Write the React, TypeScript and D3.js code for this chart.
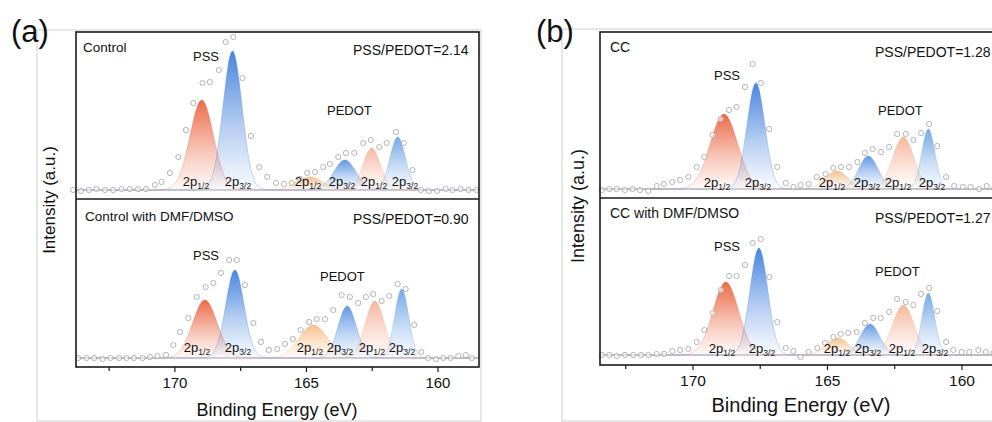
import React from "react";
import * as d3 from "d3";

// ---- Measured S 2p spectra: [binding energy (eV), intensity (a.u.)] ----
const controlPoints: [number, number][] = [
  [173.87, 0], [173.57, -1], [173.27, 0], [172.98, 1], [172.66, 0], [172.35, 0], [172.03, 1], [171.71, 1],
  [171.4, 1], [171.1, 1], [170.76, 5], [170.51, 8], [170.19, 17], [169.87, 33], [169.58, 60], [169.3, 87],
  [168.95, 107], [168.67, 108], [168.33, 120], [168.07, 148], [167.78, 153], [167.43, 112], [167.11, 54],
  [166.79, 23], [166.49, 13], [166.16, 7], [165.86, 6], [165.56, 7], [165.25, 11], [164.97, 17], [164.67, 18],
  [164.36, 23], [164.11, 26], [163.79, 33], [163.5, 37], [163.18, 37], [162.84, 47], [162.55, 50], [162.23, 43],
  [161.95, 47], [161.6, 58], [161.3, 47], [160.97, 20], [160.65, 0], [160.35, -1], [160.03, -1], [159.71, 1],
  [159.45, 0], [159.14, 1], [158.84, 0], [158.54, 0],
];
const controlDmfPoints: [number, number][] = [
  [173.68, 0], [173.36, 0], [173.07, 0], [172.75, -1], [172.45, 0], [172.12, 0], [171.84, 0], [171.56, 0],
  [171.23, 0], [170.95, 1], [170.66, 2], [170.34, 3], [170.06, 13], [169.81, 26], [169.49, 40], [169.17, 61],
  [168.83, 71], [168.54, 75], [168.25, 85], [167.94, 98], [167.65, 98], [167.34, 73], [167.02, 35], [166.73, 16],
  [166.43, 8], [166.11, 9], [165.82, 14], [165.52, 19], [165.22, 28], [164.9, 36], [164.61, 39], [164.3, 39],
  [163.98, 48], [163.66, 63], [163.35, 61], [163.03, 55], [162.74, 61], [162.46, 64], [162.14, 57], [161.85, 62],
  [161.53, 74], [161.23, 69], [160.9, 33], [160.63, 6], [160.37, 0], [160.08, -1], [159.8, 0], [159.52, 0],
  [159.23, 2], [158.94, 3], [158.71, 0],
];
const ccPoints: [number, number][] = [
  [173.39, -1], [173.11, 0], [172.84, 0], [172.53, -1], [172.24, 0], [171.97, -1], [171.66, -2], [171.35, 3],
  [171.08, 5], [170.77, 7], [170.48, 9], [170.17, 12], [169.86, 22], [169.58, 32], [169.27, 54], [168.97, 70],
  [168.66, 79], [168.38, 82], [168.07, 102], [167.78, 125], [167.48, 106], [167.17, 60], [166.87, 22], [166.55, 6],
  [166.27, 2], [166.0, 4], [165.7, 5], [165.4, 12], [165.07, 15], [164.78, 21], [164.5, 22], [164.2, 22],
  [163.89, 27], [163.61, 36], [163.32, 40], [163.01, 37], [162.71, 42], [162.41, 55], [162.09, 55], [161.81, 49],
  [161.52, 56], [161.22, 65], [160.92, 43], [160.59, 12], [160.29, 3], [159.97, 2], [159.68, 2], [159.36, 0],
  [159.08, 3], [158.8, 1],
];
const ccDmfPoints: [number, number][] = [
  [173.39, 0], [173.11, 0], [172.84, -1], [172.53, 0], [172.22, 0], [171.93, 0], [171.66, 0], [171.35, 1],
  [171.07, 1], [170.77, 4], [170.48, 5], [170.17, 6], [169.86, 13], [169.58, 25], [169.27, 42], [168.96, 65],
  [168.66, 79], [168.38, 79], [168.07, 90], [167.78, 112], [167.48, 116], [167.16, 78], [166.87, 33], [166.55, 7],
  [166.27, 4], [166.0, -2], [165.7, 3], [165.38, 7], [165.09, 12], [164.78, 18], [164.51, 21], [164.23, 22],
  [163.91, 23], [163.61, 32], [163.3, 37], [163.02, 37], [162.71, 43], [162.41, 56], [162.09, 53], [161.81, 50],
  [161.52, 61], [161.22, 67], [160.92, 44], [160.59, 13], [160.32, 5], [160.01, 3], [159.73, 3], [159.39, 5],
  [159.11, 3], [158.82, 2],
];

// ---- Fitted components: [center (eV), height (a.u.), FWHM (eV)] ----
// order: PSS 2p1/2, PSS 2p3/2, PEDOT 2p1/2, PEDOT 2p3/2, PEDOT 2p1/2, PEDOT 2p3/2
const controlPeaks: [number, number, number][] = [
  [168.98, 90, 1.05], [167.81, 139, 0.85], [164.87, 13, 1.2], [163.54, 30, 1.0], [162.52, 42, 0.78], [161.53, 53, 0.7],
];
const controlDmfPeaks: [number, number, number][] = [
  [168.86, 58, 1.1], [167.72, 88, 0.82], [164.74, 33, 1.27], [163.45, 52, 0.82], [162.4, 57, 0.86], [161.38, 69, 0.63],
];
const ccPeaks: [number, number, number][] = [
  [168.85, 75, 1.2], [167.66, 106, 0.78], [164.66, 18, 1.0], [163.48, 33, 0.85], [162.18, 52, 0.93], [161.25, 60, 0.58],
];
const ccDmfPeaks: [number, number, number][] = [
  [168.78, 73, 1.12], [167.55, 107, 0.78], [164.62, 17, 1.0], [163.42, 31, 0.85], [162.18, 50, 0.95], [161.25, 62, 0.56],
];

const sampleNames = ["Control", "Control with DMF/DMSO", "CC", "CC with DMF/DMSO"];
const ratioLabels = ["PSS/PEDOT=2.14", "PSS/PEDOT=0.90", "PSS/PEDOT=1.28", "PSS/PEDOT=1.27"];
const componentSubs = ["1/2", "3/2", "1/2", "3/2", "1/2", "3/2"];
const majorTicks = [170, 165, 160];
const minorTicks = [172.5, 167.5, 162.5, 157.5];

// ---- styling ----
const FONT = "Arial, 'Liberation Sans', Helvetica, sans-serif";
const compColors = ["#E95F38", "#3A7BDB", "#F2A65C", "#4A89DE", "#F3A07F", "#5E9BE2"];
const compOpacity = [0.92, 0.92, 0.7, 0.85, 0.75, 0.85];

type Sub = {
  points: [number, number][];
  peaks: [number, number, number][];
  name: string;
  ratio: string;
  top: number;
  bottom: number;
  baseline: number;
  nameXY: [number, number];
  ratioXY: [number, number];
  pssXY: [number, number];
  pedotXY: [number, number];
  subXs: number[];
  subY: number;
  fs: number;
};

type Panel = {
  id: string;
  letter: string;
  letterXY: [number, number];
  gray: [number, number, number, number];
  x0: number;
  x1: number;
  domain: [number, number];
  subs: Sub[];
  tickY: number;
  tickFs: number;
  titleXY: [number, number];
  titleFs: number;
  ylabXY: [number, number];
  ylabFs: number;
};

const panels: Panel[] = [
  {
    id: "a",
    letter: "(a)",
    letterXY: [11, 42],
    gray: [37, 30, 481, 421],
    x0: 76,
    x1: 479,
    domain: [173.76, 158.44],
    tickY: 388,
    tickFs: 15,
    titleXY: [277, 416],
    titleFs: 18,
    ylabXY: [55, 200],
    ylabFs: 17,
    subs: [
      {
        points: controlPoints, peaks: controlPeaks, name: sampleNames[0], ratio: ratioLabels[0],
        top: 32, bottom: 199, baseline: 190,
        nameXY: [83, 51.5], ratioXY: [353, 55], pssXY: [193, 61], pedotXY: [327, 114.5],
        subXs: [196, 238, 308, 342, 374, 405], subY: 186, fs: 13.5,
      },
      {
        points: controlDmfPoints, peaks: controlDmfPeaks, name: sampleNames[1], ratio: ratioLabels[1],
        top: 199, bottom: 367, baseline: 358,
        nameXY: [85, 220.5], ratioXY: [353, 224], pssXY: [193, 259.5], pedotXY: [320, 281],
        subXs: [197, 238, 310, 340, 372, 402], subY: 352, fs: 13.5,
      },
    ],
  },
  {
    id: "b",
    letter: "(b)",
    letterXY: [536, 42],
    gray: [562, 29, 1100, 421],
    x0: 600,
    x1: 1005,
    domain: [173.457, 158.4],
    tickY: 386,
    tickFs: 15.5,
    titleXY: [801, 412],
    titleFs: 20,
    ylabXY: [584, 206],
    ylabFs: 18,
    subs: [
      {
        points: ccPoints, peaks: ccPeaks, name: sampleNames[2], ratio: ratioLabels[2],
        top: 32, bottom: 198, baseline: 189,
        nameXY: [610, 51.5], ratioXY: [875, 57], pssXY: [714, 79.5], pedotXY: [878, 114.5],
        subXs: [717, 758, 832, 867, 898, 932], subY: 187, fs: 14,
      },
      {
        points: ccDmfPoints, peaks: ccDmfPeaks, name: sampleNames[3], ratio: ratioLabels[3],
        top: 198, bottom: 365, baseline: 355,
        nameXY: [610, 218], ratioXY: [875, 223], pssXY: [714, 251], pedotXY: [875, 276],
        subXs: [722, 762, 837, 868, 902, 935], subY: 353, fs: 14,
      },
    ],
  },
];

const gauss = (e: number, c: number, h: number, fwhm: number) => {
  const s = fwhm / 2.3548;
  return h * Math.exp(-((e - c) * (e - c)) / (2 * s * s));
};

function SubPlot({ panel, sub, idx }: { panel: Panel; sub: Sub; idx: number }) {
  const x = d3.scaleLinear().domain(panel.domain).range([panel.x0, panel.x1]);
  const y = d3.scaleLinear().domain([0, 100]).range([sub.baseline, sub.baseline - 100]);
  const clipId = `clip-${panel.id}-${idx}`;
  const energies = d3.range(panel.domain[0], panel.domain[1], -0.02);

  return (
    <g>
      <defs>
        <clipPath id={clipId}>
          <rect x={panel.x0} y={sub.top} width={panel.x1 - panel.x0} height={sub.bottom - sub.top} />
        </clipPath>
        {sub.peaks.map((_, k) => (
          <linearGradient key={k} id={`g-${panel.id}-${idx}-${k}`} x1="0" y1="0" x2="0" y2="1">
            <stop offset="0%" stopColor={compColors[k]} stopOpacity={compOpacity[k]} />
            <stop offset="55%" stopColor={compColors[k]} stopOpacity={compOpacity[k] * 0.4} />
            <stop offset="100%" stopColor={compColors[k]} stopOpacity={0.02} />
          </linearGradient>
        ))}
      </defs>
      <g clipPath={`url(#${clipId})`}>
        {sub.peaks.map(([c, h, w], k) => {
          const s = w / 2.3548;
          const local = energies.filter((e) => Math.abs(e - c) < 4 * s);
          const area = d3
            .area<number>()
            .x((e) => x(e))
            .y0(y(0))
            .y1((e) => y(gauss(e, c, h, w)))
            .curve(d3.curveBasis);
          return <path key={k} d={area(local) ?? ""} fill={`url(#g-${panel.id}-${idx}-${k})`} />;
        })}
        {sub.peaks.map(([c, h, w], k) => {
          const line = d3
            .line<number>()
            .x((e) => x(e))
            .y((e) => y(gauss(e, c, h, w)));
          return (
            <path key={k} d={line(energies) ?? ""} fill="none" stroke={compColors[k]} strokeOpacity={0.28} strokeWidth={1} />
          );
        })}
      </g>
      {sub.points.map(([e, v], i) => (
        <circle key={i} cx={x(e)} cy={y(v)} r={2.6} fill="#fff" fillOpacity={0.6} stroke="#b4b4b4" strokeWidth={1} />
      ))}
      <text x={sub.nameXY[0]} y={sub.nameXY[1]} fontSize={sub.fs} fontFamily={FONT} fill="#111">
        {sub.name}
      </text>
      <text x={sub.ratioXY[0]} y={sub.ratioXY[1]} fontSize={14} fontFamily={FONT} fill="#111">
        {sub.ratio}
      </text>
      <text x={sub.pssXY[0]} y={sub.pssXY[1]} fontSize={13} fontFamily={FONT} fill="#111">
        PSS
      </text>
      <text x={sub.pedotXY[0]} y={sub.pedotXY[1]} fontSize={13} fontFamily={FONT} fill="#111">
        PEDOT
      </text>
      {sub.subXs.map((sx, k) => (
        <text key={k} x={sx} y={sub.subY} fontSize={13} fontFamily={FONT} fill="#111" textAnchor="middle">
          2p
          <tspan fontSize={8.5} dy={3}>
            {componentSubs[k]}
          </tspan>
        </text>
      ))}
    </g>
  );
}

function PanelView({ panel }: { panel: Panel }) {
  const x = d3.scaleLinear().domain(panel.domain).range([panel.x0, panel.x1]);
  const top = panel.subs[0].top;
  const mid = panel.subs[0].bottom;
  const bottom = panel.subs[1].bottom;
  const [gx0, gy0, gx1, gy1] = panel.gray;
  const inDomain = (t: number) => t <= panel.domain[0] && t >= panel.domain[1];
  return (
    <g>
      <rect x={gx0} y={gy0} width={gx1 - gx0} height={gy1 - gy0} fill="none" stroke="#cfcfcf" strokeWidth={1} />
      <text x={panel.letterXY[0]} y={panel.letterXY[1]} fontSize={31} fontFamily={FONT} fill="#111">
        {panel.letter}
      </text>
      {panel.subs.map((s, i) => (
        <SubPlot key={i} panel={panel} sub={s} idx={i} />
      ))}
      <rect x={panel.x0} y={top} width={panel.x1 - panel.x0} height={bottom - top} fill="none" stroke="#1a1a1a" strokeWidth={1.6} />
      <line x1={panel.x0} x2={panel.x1} y1={mid} y2={mid} stroke="#1a1a1a" strokeWidth={1.6} />
      {majorTicks.filter(inDomain).map((t) => (
        <g key={t}>
          <line x1={x(t)} x2={x(t)} y1={bottom} y2={bottom + 5} stroke="#1a1a1a" strokeWidth={1.2} />
          <text x={x(t)} y={panel.tickY} fontSize={panel.tickFs} fontFamily={FONT} textAnchor="middle" fill="#111">
            {t}
          </text>
        </g>
      ))}
      {minorTicks.filter(inDomain).map((t) => (
        <line key={t} x1={x(t)} x2={x(t)} y1={bottom} y2={bottom + 4} stroke="#1a1a1a" strokeWidth={1.2} />
      ))}
      <text x={panel.titleXY[0]} y={panel.titleXY[1]} fontSize={panel.titleFs} fontFamily={FONT} textAnchor="middle" fill="#111">
        Binding Energy (eV)
      </text>
      <text
        transform={`translate(${panel.ylabXY[0]},${panel.ylabXY[1]}) rotate(-90)`}
        fontSize={panel.ylabFs}
        fontFamily={FONT}
        textAnchor="middle"
        fill="#111"
      >
        Intensity (a.u.)
      </text>
    </g>
  );
}

export default function App() {
  return (
    <svg
      width={992}
      height={422}
      viewBox="0 0 992 422"
      style={{ position: "absolute", left: 0, top: 0, background: "#fff" }}
    >
      <rect x={0} y={0} width={992} height={422} fill="#fff" />
      {panels.map((p) => (
        <PanelView key={p.id} panel={p} />
      ))}
    </svg>
  );
}
